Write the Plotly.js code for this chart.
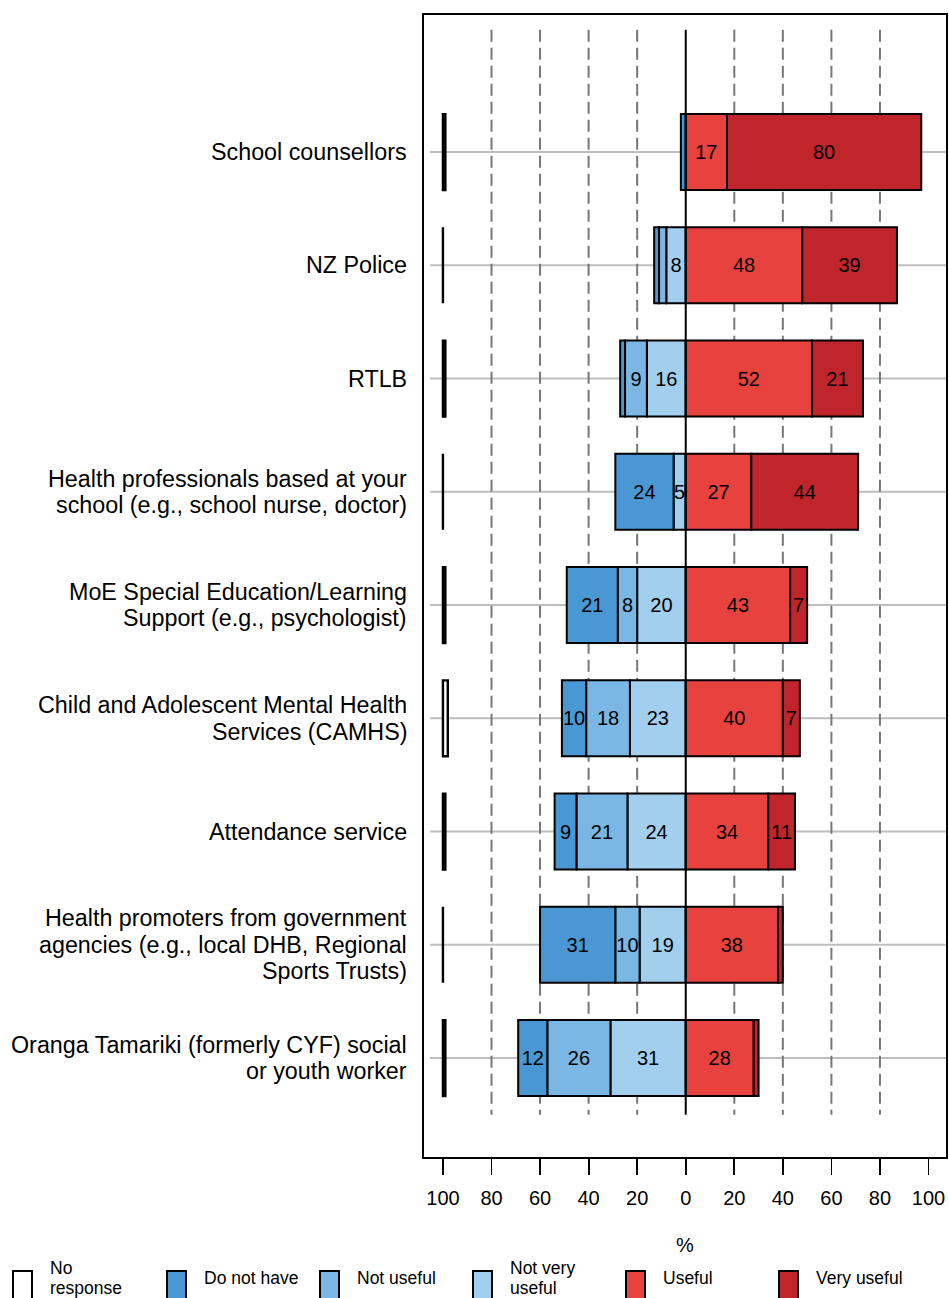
<!DOCTYPE html>
<html>
<head>
<meta charset="utf-8">
<script src="https://cdn.plot.ly/plotly-3.0.1.min.js"></script>
<style>body{margin:0;padding:0;background:#fff;}#chart{width:949px;height:1298px;}</style>
</head>
<body>
<div id="chart"></div>
<script>
const categories = [
  "School counsellors",
  "NZ Police",
  "RTLB",
  "Health professionals based at your<br>school (e.g., school nurse, doctor)",
  "MoE Special Education/Learning<br>Support (e.g., psychologist)",
  "Child and Adolescent Mental Health<br>Services (CAMHS)",
  "Attendance service",
  "Health promoters from government<br>agencies (e.g., local DHB, Regional<br>Sports Trusts)",
  "Oranga Tamariki (formerly CYF) social<br>or youth worker"
];
const noResponse    = [1, 0, 1, 0, 1, 2, 1, 0, 1];
const doNotHave     = [2, 2, 2, 24, 21, 10, 9, 31, 12];
const notUseful     = [0, 3, 9, 0, 8, 18, 21, 10, 26];
const notVeryUseful = [0, 8, 16, 5, 20, 23, 24, 19, 31];
const useful        = [17, 48, 52, 27, 43, 40, 34, 38, 28];
const veryUseful    = [80, 39, 21, 44, 7, 7, 11, 2, 2];

const seriesNames = ["No<br>response", "Do not have", "Not useful", "Not very<br>useful", "Useful", "Very useful"];
const seriesColors = ["#FFFFFF", "#4A98D3", "#7AB7E4", "#A3CFEF", "#E8423F", "#C0252B"];
const xTickVals = [-100, -80, -60, -40, -20, 0, 20, 40, 60, 80, 100];
const xTickText = ["100", "80", "60", "40", "20", "0", "20", "40", "60", "80", "100"];
const gridVals = [-80, -60, -40, -20, 20, 40, 60, 80];

const FONT = "Arial, 'Liberation Sans', sans-serif";
const yIdx = categories.map((c, i) => i);
const L = 424, R = 946, T = 15, B = 1157;
const W = 949, H = 1298;
const px = v => (v - L) / (R - L);
const py = v => (B - v) / (B - T);

function lbl(vals) { return vals.map(v => v >= 5 ? String(v) : ""); }
function barTrace(vals, neg, color) {
  return {
    type: "bar", orientation: "h", y: yIdx,
    x: vals.map(v => neg ? -v : v),
    text: lbl(vals), textposition: "inside", insidetextanchor: "middle",
    textangle: 0, constraintext: "none",
    textfont: {family: FONT, size: 20, color: "#000"},
    width: 0.67,
    marker: {color: color, line: {color: "#000", width: 2}},
    hoverinfo: "skip", showlegend: false, cliponaxis: false
  };
}

const traces = [
  barTrace(notVeryUseful, true, seriesColors[3]),
  barTrace(notUseful, true, seriesColors[2]),
  barTrace(doNotHave, true, seriesColors[1]),
  barTrace(useful, false, seriesColors[4]),
  barTrace(veryUseful, false, seriesColors[5]),
  {
    type: "bar", orientation: "h", y: yIdx, x: noResponse,
    base: noResponse.map(() => -100), width: 0.67,
    marker: {color: seriesColors[0], line: {color: "#000", width: 2.4}},
    hoverinfo: "skip", showlegend: false
  }
];

const shapes = [];
yIdx.forEach(i => shapes.push({type: "line", xref: "x", yref: "y", x0: -105.3, x1: 107.2, y0: i, y1: i,
  line: {color: "#BEBEBE", width: 2}, layer: "below"}));
gridVals.forEach(g => shapes.push({type: "line", xref: "x", yref: "y", x0: g, x1: g, y0: -1.08, y1: 8.5,
  line: {color: "#777777", width: 2, dash: "12px,6px"}, layer: "below"}));
shapes.push({type: "line", xref: "x", yref: "y", x0: 0, x1: 0, y0: -1.08, y1: 8.5,
  line: {color: "#000", width: 2}, layer: "above"});

const annotations = [];
categories.forEach((c, i) => {
  const lines = c.split("<br>");
  lines.forEach((ln, k) => {
    annotations.push({xref: "paper", yref: "y", x: 0, y: i, xshift: -15,
      yshift: -((k - (lines.length - 1) / 2) * 26.5),
      text: ln, showarrow: false, xanchor: "right", yanchor: "middle",
      font: {family: FONT, size: 23.3, color: "#000"}});
  });
});
const legX = [13, 167, 320, 473, 626, 779];
seriesNames.forEach((n, k) => {
  shapes.push({type: "rect", xref: "paper", yref: "paper",
    x0: px(legX[k]), x1: px(legX[k] + 19), y0: py(1271), y1: py(1315),
    fillcolor: seriesColors[k], line: {color: "#000", width: 2}});
  const lines = n.split("<br>");
  lines.forEach((ln, j) => {
    annotations.push({xref: "paper", yref: "paper", x: px(legX[k] + 35), y: py(1278),
      yshift: -((j - (lines.length - 1) / 2) * 20),
      text: ln, showarrow: false, xanchor: "left", yanchor: "middle",
      font: {family: FONT, size: 17.5, color: "#000"}});
  });
});

const layout = {
  width: W, height: H,
  margin: {l: L, r: W - R, t: T, b: H - B, pad: 0},
  paper_bgcolor: "#fff", plot_bgcolor: "#fff",
  barmode: "relative", bargap: 0,
  font: {family: FONT, color: "#000"},
  xaxis: {
    range: [-107.8, 107.2], tickvals: xTickVals, ticktext: xTickText,
    ticks: "outside", ticklen: 16, tickwidth: 1.8, tickcolor: "#000",
    tickfont: {family: FONT, size: 20, color: "#000"},
    showgrid: false, zeroline: false,
    showline: true, mirror: true, linecolor: "#000", linewidth: 1.8,
    ticklabelstandoff: 6,
    title: {text: "%", font: {family: FONT, size: 20, color: "#000"}, standoff: 30}
  },
  yaxis: {
    range: [8.874, -1.21], showticklabels: false, ticks: "",
    showgrid: false, zeroline: false,
    showline: true, mirror: true, linecolor: "#000", linewidth: 1.8
  },
  shapes: shapes,
  annotations: annotations,
  showlegend: false
};

Plotly.newPlot("chart", traces, layout, {staticPlot: true, displayModeBar: false});
</script>
</body>
</html>
